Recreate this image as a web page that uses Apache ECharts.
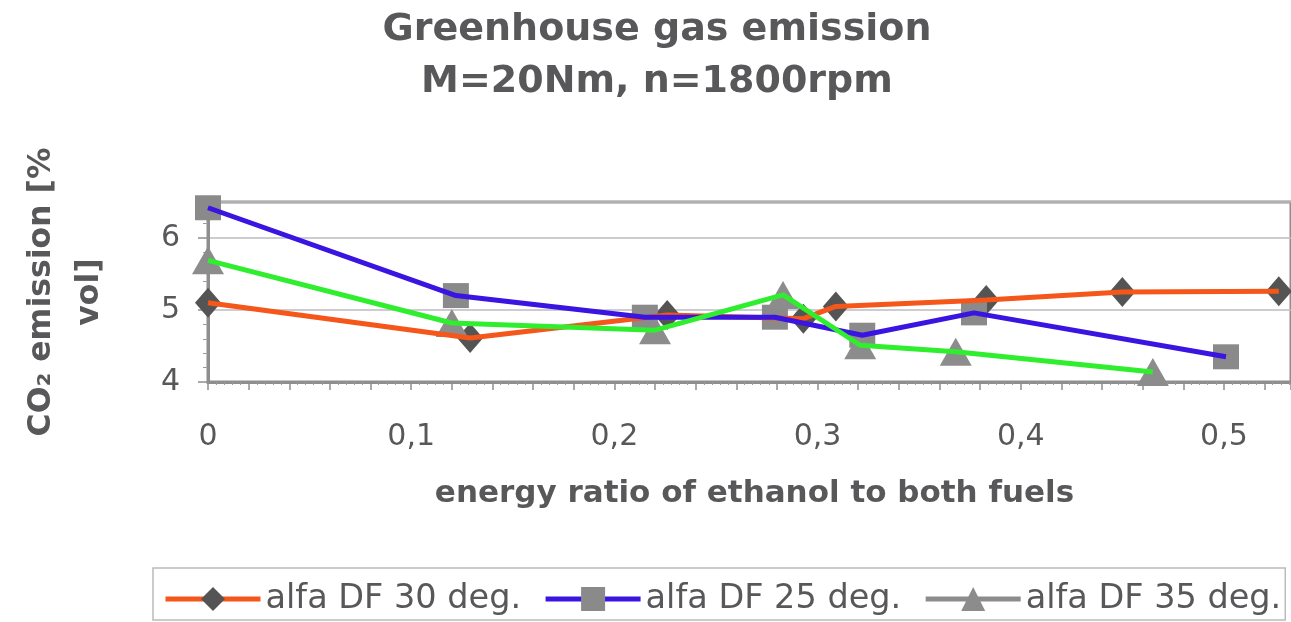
<!DOCTYPE html>
<html>
<head>
<meta charset="utf-8">
<script src="https://cdn.jsdelivr.net/npm/echarts@6/dist/echarts.min.js"></script>
<style>html,body{margin:0;padding:0;background:#fff;}#c{width:1291px;height:622px;}</style>
</head>
<body>
<div id="c"></div>
<script>
const seriesNames = ['alfa DF 30 deg.', 'alfa DF 25 deg.', 'alfa DF 35 deg.'];
const xDF30 = [0, 0.129, 0.226, 0.293, 0.309, 0.383, 0.450, 0.527];
const yDF30 = [5.10, 4.61, 4.93, 4.88, 5.05, 5.14, 5.25, 5.26];
const xDF25 = [0, 0.122, 0.215, 0.279, 0.322, 0.377, 0.501];
const yDF25 = [6.42, 5.20, 4.90, 4.90, 4.65, 4.96, 4.35];
const xDF35 = [0, 0.120, 0.220, 0.283, 0.321, 0.368, 0.465];
const yDF35 = [5.69, 4.82, 4.72, 5.21, 4.51, 4.42, 4.14];
const xTickLabels = ['0', '0,1', '0,2', '0,3', '0,4', '0,5'];
const yTickLabels = ['4', '5', '6'];

const pairs = (xs, ys) => xs.map((x, i) => [x, ys[i]]);
const txt = '#58585a';
const font = 'DejaVu Sans';
const lineColors = ['#f5561a', '#3a14e0', '#2eee2e'];
const markerColors = ['#545454', '#8a8a8a', '#8c8c8c'];
const symbols = ['diamond', 'rect', 'triangle'];
const symbolSizes = [[26, 30], [26, 25], [32, 28]];
const data = [pairs(xDF30, yDF30), pairs(xDF25, yDF25), pairs(xDF35, yDF35)];

const series = [];
data.forEach((d, i) => {
  series.push({
    name: seriesNames[i], type: 'line', data: d, z: 3,
    symbol: symbols[i], showSymbol: false, symbolSize: symbolSizes[i],
    lineStyle: { color: lineColors[i], width: 5 },
    itemStyle: { color: markerColors[i] },
    silent: true
  });
});
data.forEach((d, i) => {
  series.push({
    name: seriesNames[i] + ' pts', type: 'scatter', data: d, z: 2,
    symbol: symbols[i], symbolSize: symbolSizes[i],
    itemStyle: { color: markerColors[i], opacity: 1 }, silent: true
  });
});

const chart = echarts.init(document.getElementById('c'));
chart.setOption({
  animation: false,
  backgroundColor: '#fff',
  title: {
    text: 'Greenhouse gas emission\nM=20Nm, n=1800rpm',
    left: 657, top: 4, padding: 0, textAlign: 'center',
    textStyle: { fontFamily: font, fontWeight: 'bold', fontSize: 38, lineHeight: 52, color: txt }
  },
  legend: {
    data: [
      { name: seriesNames[0] },
      { name: seriesNames[1] },
      { name: seriesNames[2], lineStyle: { color: '#8c8c8c' } }
    ],
    left: 153, top: 568, width: 1128, padding: [14, 4, 4, 10],
    itemWidth: 95, itemHeight: 30, itemGap: 22,
    lineStyle: { width: 5 },
    borderColor: '#bbb', borderWidth: 1.5,
    textStyle: { fontFamily: font, fontSize: 33.5, color: txt }
  },
  grid: { left: 208, top: 202, right: -5, bottom: 240, show: true, borderColor: '#8e8e8e', borderWidth: 3, backgroundColor: 'transparent' },
  xAxis: {
    type: 'value', min: 0, max: 0.533, interval: 0.02,
    name: 'energy ratio of ethanol to both fuels', nameLocation: 'middle', nameGap: 96,
    nameTextStyle: { fontFamily: font, fontWeight: 'bold', fontSize: 31, color: txt, padding: [0, 0, 0, 10] },
    axisLine: { lineStyle: { color: '#8e8e8e', width: 3 } },
    axisTick: { show: true, length: 8, lineStyle: { color: '#8e8e8e', width: 1.5 } },
    minorTick: { show: true, splitNumber: 5, length: 3, lineStyle: { color: '#9a9a9a', width: 1 } },
    splitLine: { show: false },
    axisLabel: {
      fontFamily: font, fontSize: 30, color: txt, margin: 40, showMaxLabel: false,
      formatter: v => { const r = Math.round(v * 10); return Math.abs(v * 10 - r) < 1e-6 ? (xTickLabels[r] || '') : ''; }
    }
  },
  yAxis: {
    type: 'value', min: 4, max: 6.5, interval: 1,
    name: 'CO\u2082 emission [%\nvol]', nameLocation: 'middle', nameGap: 94, nameRotate: 90,
    nameTextStyle: { fontFamily: font, fontWeight: 'bold', fontSize: 31.5, lineHeight: 48, color: txt, align: 'center' },
    axisLine: { show: true, lineStyle: { color: '#8e8e8e', width: 3 } },
    axisTick: { show: true, length: 10, lineStyle: { color: '#8e8e8e', width: 1.5 } },
    minorTick: { show: true, splitNumber: 5, length: 5, lineStyle: { color: '#9a9a9a', width: 1 } },
    splitLine: { show: true, lineStyle: { color: '#bdbdc2', width: 1.5 } },
    axisLabel: {
      fontFamily: font, fontSize: 30, color: txt, margin: 28, showMaxLabel: false,
      formatter: v => { const k = yTickLabels.indexOf(String(v)); return k >= 0 ? yTickLabels[k] : ''; }
    }
  },
  series: series
});
</script>
</body>
</html>
